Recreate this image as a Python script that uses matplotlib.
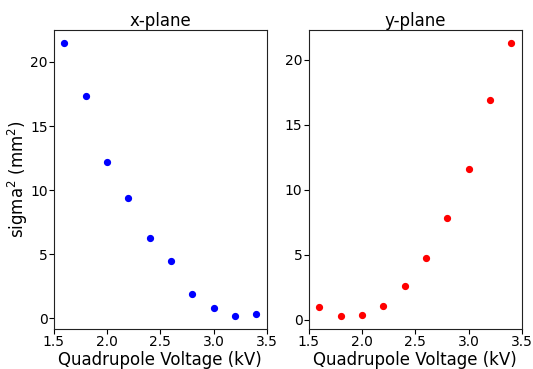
import matplotlib
matplotlib.use("Agg")
import matplotlib.pyplot as plt

# quadrupole scan data
voltage = [1.6, 1.8, 2.0, 2.2, 2.4, 2.6, 2.8, 3.0, 3.2, 3.4]
sigma2_x = [21.44, 17.33, 12.21, 9.41, 6.25, 4.47, 1.88, 0.78, 0.21, 0.35]
sigma2_y = [0.97, 0.33, 0.35, 1.05, 2.62, 4.79, 7.85, 11.6, 16.88, 21.24]

fig, (ax1, ax2) = plt.subplots(1, 2, figsize=(5.33, 3.69), dpi=100)
fig.subplots_adjust(left=0.101, right=0.979, top=0.919, bottom=0.108, wspace=0.197)

ax1.plot(voltage, sigma2_x, "o", color="blue", ms=4.2)
ax2.plot(voltage, sigma2_y, "o", color="red", ms=4.2)

ax1.set_title("x-plane", fontsize=12, pad=2)
ax2.set_title("y-plane", fontsize=12, pad=2)
ax1.set_ylabel("sigma$^2$ (mm$^2$)", fontsize=12, labelpad=0)
for ax in (ax1, ax2):
    ax.set_xlabel("Quadrupole Voltage (kV)", fontsize=12, labelpad=1)
    ax.set_xticks([1.5, 2.0, 2.5, 3.0, 3.5])
    ax.tick_params(labelsize=10, pad=1)
    for s in ax.spines.values():
        s.set_color("#222222")

fig.savefig("out.png", dpi=100)
